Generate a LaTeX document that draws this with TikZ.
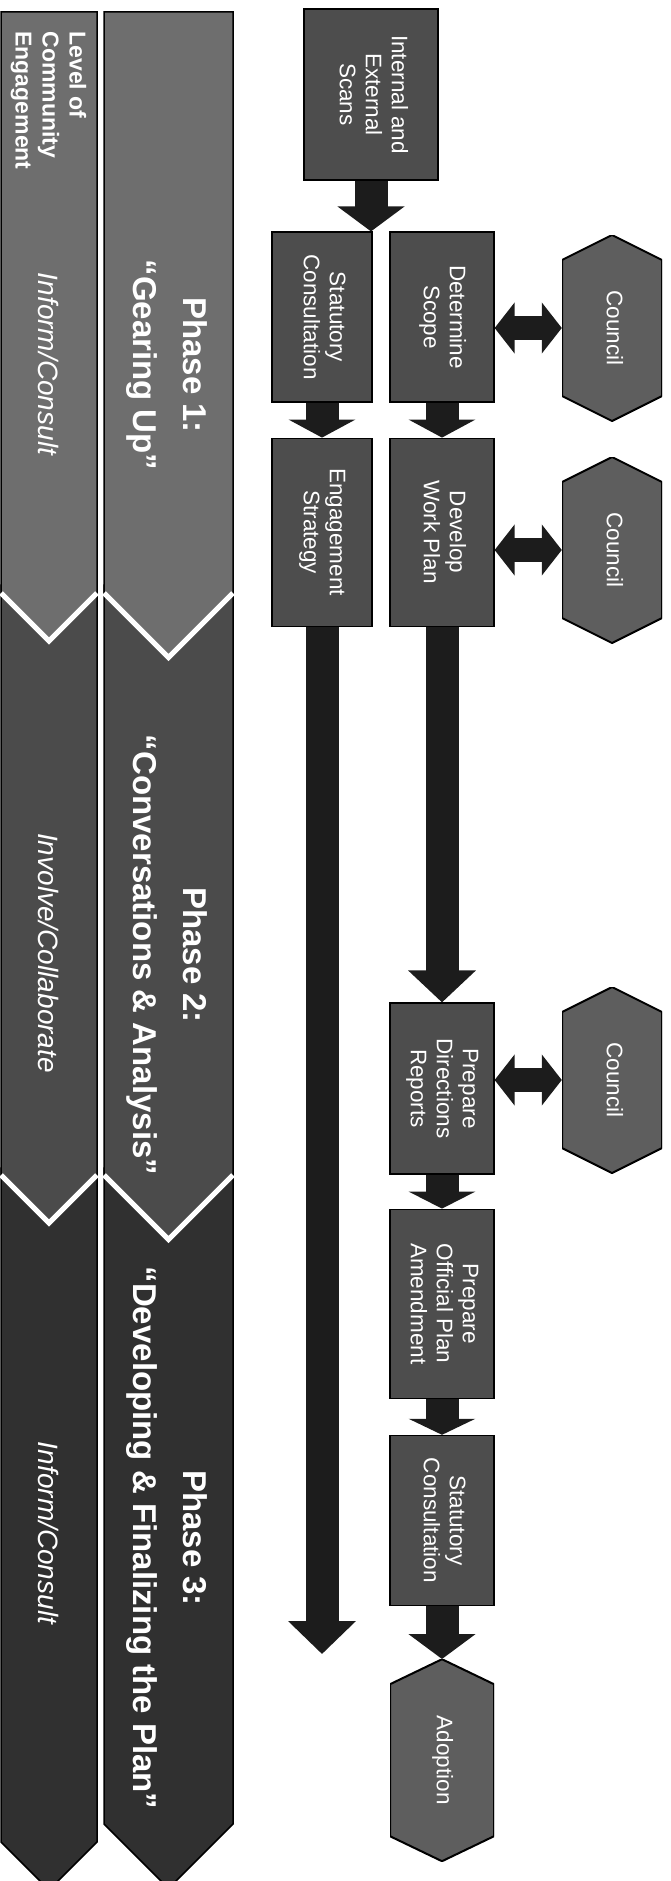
\documentclass[tikz,border=0pt]{standalone}
\usepackage{fontspec}
\setmainfont{Liberation Sans}
\usepackage{graphicx}
\usepackage{tikz}
\usetikzlibrary{arrows.meta, positioning}

\definecolor{phaseone}{HTML}{6E6E6E}
\definecolor{phasetwo}{HTML}{4B4B4B}
\definecolor{phasethree}{HTML}{303030}
\definecolor{stepgray}{HTML}{4D4D4D}
\definecolor{hexgray}{HTML}{5E5E5E}
\definecolor{arrowgray}{HTML}{1C1C1C}

\newcommand{\vlabel}[1]{\rotatebox{-90}{\begin{tabular}{@{}c@{}}#1\end{tabular}}}
\newcommand{\stepfont}{\fontsize{22.5}{26}\selectfont}

\tikzset{
    stepbox/.style={
        rectangle,
        minimum width=100pt,
        minimum height=170pt,
        inner sep=0pt,
        fill=stepgray,
        draw=black,
        line width=1.2pt,
        text=white,
        font=\stepfont
    },
    hexbox/.style={
        rectangle,
        minimum width=100pt,
        minimum height=186pt,
        inner sep=0pt,
        fill=white,
        text=white,
        font=\stepfont,
        path picture={
            \filldraw[fill=hexgray, draw=black, line width=2pt]
                (path picture bounding box.north)
                -- ([yshift=-25pt]path picture bounding box.north east)
                -- ([yshift=25pt]path picture bounding box.south east)
                -- (path picture bounding box.south)
                -- ([yshift=25pt]path picture bounding box.south west)
                -- ([yshift=-25pt]path picture bounding box.north west)
                -- cycle;
        }
    },
    phasetitle/.style={
        rotate=-90,
        align=center,
        text=white,
        font=\bfseries\fontsize{33}{50}\selectfont
    },
    levellabel/.style={
        rotate=-90,
        text=white,
        font=\itshape\fontsize{28}{32}\selectfont
    },
    flowarrow/.style={
        draw=arrowgray,
        line width=33pt,
        -{Triangle[length=#1, width=66pt]}
    },
    flowarrow/.default=20pt,
    linkarrow/.style={
        draw=arrowgray,
        line width=24pt,
        {Triangle[length=20pt, width=50pt]}-{Triangle[length=20pt, width=50pt]}
    },
    vshade/.style={white, line width=5pt}
}

\begin{document}
\begin{tikzpicture}[x=1pt, y=-1pt]
\useasboundingbox (0,0) rectangle (670,1881);
\clip (0,0) rectangle (670,1881);

% Phase bands
\filldraw[fill=phasethree, draw=black, line width=1.5pt] (1,1168) -- (97,1168) -- (97,1842) -- (49,1890) -- (1,1842) -- cycle;
\filldraw[fill=phasethree, draw=black, line width=1.5pt] (104,1168) -- (233,1168) -- (233,1824) -- (168.5,1888.5) -- (104,1824) -- cycle;
\filldraw[fill=phasetwo, draw=black, line width=1.5pt] (1,585) -- (97,585) -- (97,1175) -- (49,1223) -- (1,1175) -- cycle;
\draw[vshade] (1,1175) -- (49,1223) -- (97,1175);
\filldraw[fill=phasetwo, draw=black, line width=1.5pt] (104,585) -- (233,585) -- (233,1175) -- (168.5,1239.5) -- (104,1175) -- cycle;
\draw[vshade] (104,1175) -- (168.5,1239.5) -- (233,1175);
\filldraw[fill=phaseone, draw=black, line width=1.5pt] (1,12) -- (97,12) -- (97,593) -- (49,641) -- (1,593) -- cycle;
\draw[vshade] (1,593) -- (49,641) -- (97,593);
\filldraw[fill=phaseone, draw=black, line width=1.5pt] (104,12) -- (233,12) -- (233,593) -- (168.5,657.5) -- (104,593) -- cycle;
\draw[vshade] (104,593) -- (168.5,657.5) -- (233,593);

% Band labels
\node (levelhead) [rotate=-90, anchor=west, align=left, text=white, font=\bfseries\fontsize{23}{27}\selectfont] at (48.5,28) {Level of\\Community\\Engagement};
\node (levelA) [levellabel] at (48.5,364) {Inform/Consult};
\node (levelB) [levellabel] at (48.5,953) {Involve/Collaborate};
\node (levelC) [levellabel] at (48.5,1533) {Inform/Consult};
\node (phaseA) [phasetitle] at (167,365) {Phase 1:\\``Gearing Up''};
\node (phaseB) [phasetitle] at (167,955) {Phase 2:\\``Conversations \& Analysis''};
\node (phaseC) [phasetitle] at (167,1538) {Phase 3:\\``Developing \& Finalizing the Plan''};

% Nodes
\node (scans) [stepbox, minimum width=134pt, minimum height=171pt] at (371,94.5) {\vlabel{Internal and\\External\\Scans}};
\node (consultA) [stepbox] at (322,317) {\vlabel{Statutory\\Consultation}};
\node (scope) [stepbox, minimum width=104pt] at (442,317) {\vlabel{Determine\\Scope}};
\node (engage) [stepbox, minimum height=188pt, below=35pt of consultA] {\vlabel{Engagement\\Strategy}};
\node (workplan) [stepbox, minimum width=104pt, minimum height=188pt, below=35pt of scope] {\vlabel{Develop\\Work Plan}};
\node (directions) [stepbox, minimum width=104pt, minimum height=171pt] at (442,1088.5) {\vlabel{Prepare\\Directions\\Reports}};
\node (amendment) [stepbox, minimum width=104pt, minimum height=189pt, below=34pt of directions] {\vlabel{Prepare\\Official Plan\\Amendment}};
\node (consultB) [stepbox, minimum width=104pt, below=36pt of amendment] {\vlabel{Statutory\\Consultation}};
\node (adoption) [hexbox, minimum width=104pt, minimum height=202pt, below=53pt of consultB] {\vlabel{Adoption}};
\node (councilA) [hexbox] at (612,328) {\vlabel{Council}};
\node (councilB) [hexbox] at (612,550) {\vlabel{Council}};
\node (councilC) [hexbox] at (612,1080) {\vlabel{Council}};
\coordinate (engageend) at (322,1654);

% Arrows
\draw[flowarrow=25pt] (scans.south) -- (scans.south |- consultA.north);
\draw[flowarrow=18pt] (consultA) -- (engage);
\draw[flowarrow=18pt] (scope) -- (workplan);
\draw[flowarrow=33pt] (engage) -- (engageend);
\draw[flowarrow=32pt] (workplan) -- (directions);
\draw[flowarrow=17pt] (directions) -- (amendment);
\draw[flowarrow=16pt] (amendment) -- (consultB);
\draw[flowarrow=25pt] (consultB) -- (adoption);
\draw[linkarrow] (councilA.west -| scope.east) -- (councilA.west);
\draw[linkarrow] (councilB.west -| workplan.east) -- (councilB.west);
\draw[linkarrow] (councilC.west -| directions.east) -- (councilC.west);

\end{tikzpicture}
\end{document}
